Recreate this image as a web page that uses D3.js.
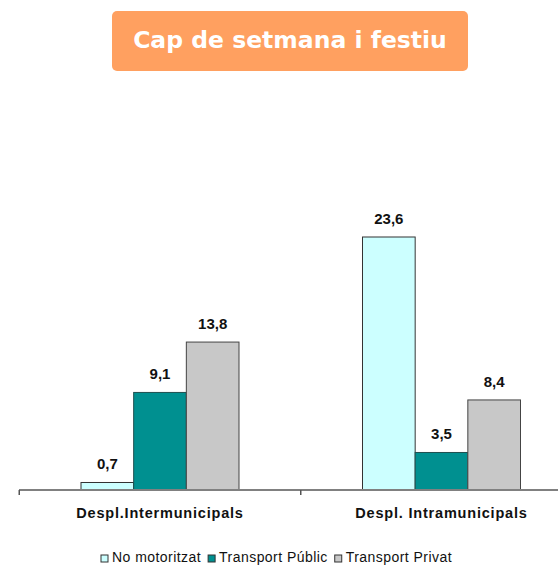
<!DOCTYPE html>
<html><head><meta charset="utf-8">
<script src="https://cdn.jsdelivr.net/npm/d3@7"></script>
<style>body{margin:0;background:#fff}svg{display:block}</style>
</head><body>
<script>
const categories = ["Despl.Intermunicipals", "Despl. Intramunicipals"];
const series = ["No motoritzat", "Transport Públic", "Transport Privat"];
const noMotoritzat = [0.7, 23.6];
const transportPublic = [9.1, 3.5];
const transportPrivat = [13.8, 8.4];
const title = "Cap de setmana i festiu";
const colors = ["#CCFFFF", "#009090", "#C8C8C8"];

const W = 558, H = 568;
const svg = d3.select("body").append("svg").attr("width", W).attr("height", H);

// title box
svg.append("rect").attr("x", 112).attr("y", 11).attr("width", 356).attr("height", 60)
  .attr("rx", 5).attr("fill", "#FFA060");
svg.append("text").attr("x", 290).attr("y", 48).attr("text-anchor", "middle")
  .attr("font-family", "DejaVu Sans, Verdana, sans-serif").attr("font-weight", "bold")
  .attr("font-size", 23.5).attr("fill", "#fff").text(title);

const baseY = 490;
const y = d3.scaleLinear().domain([0, 23.6]).range([baseY, 237]);
const xGroup = d3.scaleBand().domain(categories).range([19.25, 582.25]);
const xSub = d3.scaleBand().domain(series).range([-79, 79]);

const data = [noMotoritzat, transportPublic, transportPrivat];
const strokes = ["#333", "#1f4f4f", "#444"];

categories.forEach((c, ci) => {
  const cx = xGroup(c) + xGroup.bandwidth() / 2;
  series.forEach((s, si) => {
    const v = data[si][ci];
    svg.append("rect")
      .attr("x", cx + xSub(s)).attr("y", y(v))
      .attr("width", xSub.bandwidth()).attr("height", baseY - y(v))
      .attr("fill", colors[si]).attr("stroke", strokes[si]).attr("stroke-width", 1);
    svg.append("text")
      .attr("x", cx + xSub(s) + xSub.bandwidth() / 2).attr("y", y(v) - 13)
      .attr("text-anchor", "middle").attr("font-family", "Liberation Sans, Arial, sans-serif")
      .attr("font-weight", "bold").attr("font-size", 15).attr("fill", "#111")
      .text(String(v).replace(".", ","));
  });
});

// axis
const ax = svg.append("g").attr("transform", `translate(0,${baseY})`);
ax.append("line").attr("x1", 19).attr("x2", W).attr("y1", 0).attr("y2", 0)
  .attr("stroke", "#808080").attr("stroke-width", 2);
categories.forEach(c => {
  ax.append("line").attr("x1", xGroup(c)).attr("x2", xGroup(c)).attr("y1", 0).attr("y2", 5)
    .attr("stroke", "#555").attr("stroke-width", 1.5);
  ax.append("text").attr("x", xGroup(c) + xGroup.bandwidth() / 2).attr("y", 28)
    .attr("text-anchor", "middle").attr("font-family", "Liberation Sans, Arial, sans-serif")
    .attr("font-weight", "bold").attr("font-size", 14.5).attr("letter-spacing", 0.8)
    .attr("fill", "#111").text(c);
});

// legend (laid out from measured text widths)
const lg = svg.append("g").attr("transform", "translate(0,562)");
let lx = 101;
series.forEach((s, i) => {
  lg.append("rect").attr("x", lx).attr("y", -7).attr("width", 7).attr("height", 7)
    .attr("fill", colors[i]).attr("stroke", "#333").attr("stroke-width", 1);
  const t = lg.append("text").attr("x", lx + 11).attr("y", 0)
    .attr("font-family", "Liberation Sans, Arial, sans-serif").attr("font-size", 14)
    .attr("letter-spacing", 0.45).attr("fill", "#111").text(s);
  lx += 11 + t.node().getComputedTextLength() + 7;
});
</script>
</body></html>
